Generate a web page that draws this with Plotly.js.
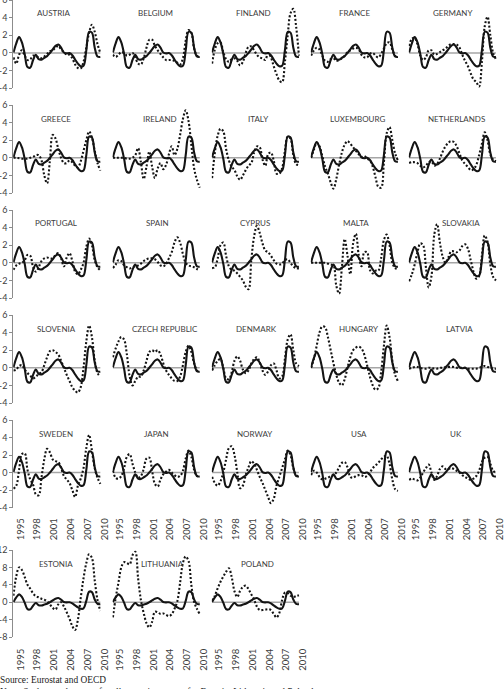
<!DOCTYPE html>
<html>
<head>
<meta charset="utf-8">
<script src="https://cdn.plot.ly/plotly-3.0.1.min.js"></script>
<style>
  html, body { margin: 0; padding: 0; background: #ffffff; }
  #chart { width: 504px; height: 689px; }
</style>
</head>
<body>
<div id="chart"></div>
<script>
// Half-yearly observation dates
const years = [1993.75, 1994.25, 1994.75, 1995.25, 1995.75, 1996.25, 1996.75, 1997.25,
               1997.75, 1998.25, 1998.75, 1999.25, 1999.75, 2000.25, 2000.75, 2001.25,
               2001.75, 2002.25, 2002.75, 2003.25, 2003.75, 2004.25, 2004.75, 2005.25,
               2005.75, 2006.25, 2006.75, 2007.25, 2007.75, 2008.25, 2008.75, 2009.25];
const tickYears = [1995, 1998, 2001, 2004, 2007, 2010];

// Reference cycle (solid line, same in every panel)
const euroArea = [0.05, 1.1, 1.8, 1.2, -0.1, -1.6, -1.65, -0.8, -0.2, -0.7, -0.75, -0.55, -0.35, 0.0, 0.4, 0.8,
                  0.95, 0.6, 0.05, -0.05, 0.0, -0.25, -0.75, -1.2, -1.5, -1.45, 0.3, 2.4, 2.3, 0.6, -0.4, -0.45];

// Country cycles (dotted lines)
const austria = [-0.5, -1.2, -0.2, 0.3, -0.3, -0.8, -0.7, -0.3, -0.4, -0.5, -0.6, -0.4, -0.1, 0.2, 0.3, 0.6,
                 0.8, 0.4, 0.1, -0.2, -0.2, -0.6, -1.3, -1.7, -1.75, -1.0, 0.6, 2.3, 3.2, 2.4, 1.0, 0.0];
const belgium = [-0.2, -0.45, -0.2, 0.1, 0.0, -0.3, -0.2, 0.0, -0.5, -1.2, -1.3, -0.6, 0.6, 1.5, 1.5, 0.8,
                 0.3, -0.1, -0.5, -0.8, -0.8, -0.8, -0.9, -1.1, -1.3, -0.6, 1.4, 2.6, 2.3, 0.5, -0.3, -0.4];
const finland = [-1.2, 0.4, 1.1, 1.2, 0.1, -0.7, -1.0, -0.7, -0.6, -0.9, -1.4, -1.0, 0.0, 0.7, 0.75, 0.3,
                 -0.2, -0.5, -0.6, -0.8, 0.0, -0.5, -1.5, -2.4, -3.1, -3.3, -1.0, 2.0, 4.5, 5.0, 3.0, -0.3];
const france = [-0.3, 0.3, 0.6, 0.4, -0.3, -0.9, -1.0, -0.7, -0.6, -0.9, -0.8, -0.6, -0.3, 0.1, 0.3, 0.5,
                0.6, 0.4, -0.2, -0.5, -0.5, -0.1, 0.0, -0.3, -0.5, -0.1, 0.5, 1.1, 1.2, 0.4, -0.3, -0.5];
const germany = [0.8, 1.6, 1.7, 1.0, -0.3, -0.8, -0.5, 0.3, 0.3, -0.2, -0.1, 0.1, 0.3, 0.5, 0.8, 1.0,
                 1.0, 0.95, 0.6, -0.2, -0.9, -1.5, -2.3, -3.0, -3.3, -3.8, -1.0, 3.0, 4.1, 2.0, 0.0, -0.7];
const greece = [0.0, 0.0, -0.05, -0.1, -0.1, -0.1, 0.0, 0.1, 0.3, 0.3, -0.3, -2.0, -2.9, -0.3, 2.6, 2.2,
                1.0, 0.0, -0.6, -0.6, -0.3, -0.5, -0.9, -1.1, -0.4, 0.8, 2.0, 3.0, 2.3, 0.8, -0.6, -1.45];
const ireland = [0.0, 0.0, 0.0, 0.0, 0.0, -0.1, -0.1, 0.0, 0.3, 1.1, -0.5, -2.4, -1.0, 0.7, -1.0, -2.3,
                 -1.2, -0.6, -1.3, -0.8, 0.4, 1.3, 0.3, 1.0, 2.6, 4.4, 5.4, 4.2, 1.5, -1.2, -2.5, -3.4];
const italy = [-2.3, 0.6, 2.5, 3.3, 3.0, 1.0, -0.3, -1.0, -1.4, -2.1, -2.5, -2.0, -1.4, -0.9, -0.6, 0.6,
               1.3, 1.2, -0.2, -0.9, 0.4, 0.6, -0.3, -1.8, -1.8, -1.2, 0.8, 2.4, 2.2, 0.3, -0.7, -0.85];
const luxembourg = [0.0, 0.9, 1.7, 1.3, 0.2, -1.0, -1.8, -2.8, -3.5, -2.4, -0.8, 0.6, 1.5, 1.9, 1.6, 1.2,
                    0.8, 0.4, 0.1, 0.2, -0.1, -0.3, -1.0, -2.2, -3.3, -3.4, -0.5, 2.8, 3.5, 2.0, 0.5, -0.3];
const netherlands = [-0.6, -0.5, -0.5, -0.6, -0.9, -1.1, -0.9, -0.5, -0.4, -0.9, -0.7, -0.1, 0.7, 1.3, 1.7, 1.9,
                     1.8, 1.3, 0.5, -0.3, -0.7, -1.05, -1.4, -1.3, -0.8, 0.3, 1.6, 2.9, 2.0, 0.4, -0.2, -0.4];
const portugal = [-0.8, -0.3, -0.1, 0.0, 0.3, 0.9, 0.8, -0.5, -1.0, -0.5, 0.2, 0.5, 0.6, 0.5, 0.5, 0.9,
                  1.1, 0.5, -0.4, 0.6, 1.1, 0.2, -1.0, -1.3, -0.8, 0.0, 1.8, 2.75, 2.0, 0.3, -0.5, -0.85];
const spain = [-0.6, -0.2, 0.3, 0.2, -0.3, -0.5, -0.65, -0.5, -0.4, -0.3, -0.1, 0.2, 0.4, 0.5, 0.5, 0.4,
               0.1, -0.3, -0.4, -0.1, 0.5, 1.2, 2.3, 2.9, 2.3, 1.0, 0.0, -0.3, -0.4, -0.5, -0.7, -0.85];
const cyprus = [-0.6, -0.5, 0.5, 2.0, 2.3, 0.8, -0.4, -0.8, -0.9, -1.2, -1.6, -2.0, -2.7, -3.0, 0.3, 3.0,
                4.2, 3.4, 2.2, 1.4, 1.2, 0.8, 0.3, -0.1, -0.2, -0.1, 0.3, 0.4, 0.0, -0.4, -0.6, -0.65];
const malta = [0.0, 0.0, 0.0, 0.0, 0.0, 0.0, -0.1, -0.2, -0.3, -2.6, -3.5, -0.5, 2.7, 0.8, -1.3, 2.2,
               3.3, 0.9, -0.4, 1.2, 1.2, -0.8, -1.2, -0.9, -0.9, 0.5, 2.6, 3.2, 2.0, 0.0, -0.6, -0.7];
const slovakia = [-2.1, -1.3, -0.2, 1.2, 2.2, 2.0, -0.5, -2.8, -1.5, 3.2, 4.4, 2.3, 0.7, 0.0, 0.6, 1.3,
                  1.3, 1.2, 1.4, 1.9, 2.1, 1.6, 0.3, -1.0, -1.8, -1.5, 0.8, 3.1, 2.4, -0.2, -1.6, -2.0];
const slovenia = [-0.3, -0.2, 0.2, 0.3, -0.2, -0.6, -0.9, -1.2, -1.0, -0.7, -0.5, 0.3, 1.2, 1.9, 2.0, 1.8,
                  1.5, 0.8, 0.0, -0.8, -1.5, -2.2, -2.6, -2.8, -2.2, 0.0, 3.0, 4.8, 3.5, 0.8, -0.6, -1.0];
const czechRepublic = [1.2, 2.2, 3.0, 3.5, 3.2, 1.5, -1.0, -2.0, -1.5, -1.0, -1.0, -0.3, 0.8, 1.8, 2.0, 1.8,
                       2.0, 1.5, 0.5, -0.3, -0.8, -1.2, -1.5, -1.5, -1.0, 0.3, 1.8, 2.5, 1.8, 0.5, -0.3, -0.5];
const denmark = [-0.3, 0.3, 0.8, 1.0, 0.0, -1.2, -1.3, -0.5, 0.8, 1.3, 0.8, -0.2, -0.6, -0.3, 0.5, 1.0,
                 1.2, 0.6, -0.3, -0.8, -0.4, 0.3, 0.5, -0.3, -1.2, -1.0, 1.0, 3.2, 3.8, 2.0, 0.5, 0.2];
const hungary = [0.0, 1.0, 2.5, 4.0, 4.7, 4.6, 3.5, 2.0, 0.5, -0.8, -1.7, -2.0, -1.3, 0.0, 1.2, 2.0,
                 2.3, 2.4, 2.2, 1.5, 0.3, -1.0, -2.0, -2.5, -2.3, -0.5, 2.5, 4.8, 3.5, 0.8, -0.8, -1.5];
const latvia = [-0.1, 0.0, 0.1, 0.1, 0.0, -0.1, -0.1, 0.0, 0.0, -0.1, -0.1, 0.0, 0.0, 0.1, 0.1, 0.1,
                0.1, 0.0, 0.0, 0.0, 0.0, -0.1, -0.1, -0.1, -0.1, 0.0, 0.1, 0.2, 0.1, 0.0, -0.1, -0.1];
const sweden = [-1.85, -1.5, 0.3, 2.1, 2.2, 0.3, -0.8, -1.4, -2.5, -2.6, -0.6, 1.5, 2.7, 2.3, 1.5, 1.3,
                1.2, 0.5, -0.4, -0.8, -1.2, -2.0, -2.8, -1.5, -0.7, 0.5, 2.8, 4.3, 2.5, 0.5, -0.6, -1.3];
const japan = [0.2, -0.6, -0.7, -0.4, 0.5, 1.8, 2.1, 1.0, 0.0, -0.6, -0.4, 0.4, 1.6, 1.7, 0.2, -1.3,
               -1.6, -0.8, -0.2, 0.1, 0.3, 0.0, -0.3, -0.5, -0.4, 0.2, 1.6, 2.5, 1.8, 0.3, -0.4, -0.3];
const norway = [-0.5, -1.2, -1.5, -1.0, 0.0, 1.5, 2.8, 3.0, 2.0, 0.0, -1.8, -1.5, -0.3, 0.6, 1.3, 1.0,
                0.3, -0.5, -1.2, -2.0, -2.8, -3.5, -3.0, -1.5, -0.5, 0.5, 1.5, 2.5, 2.0, 0.5, -0.3, -0.5];
const usa = [-0.3, 0.2, 0.0, -0.5, -0.8, -0.7, -0.6, -0.4, -0.3, 0.0, 0.6, 1.1, 1.2, 0.6, -0.5, -0.6,
             -0.4, -0.3, -0.3, -0.5, -0.4, 0.0, 0.5, 0.8, 1.1, 1.5, 1.8, 1.9, 1.0, -0.8, -1.9, -2.1];
const uk = [-0.85, -0.7, -0.8, -0.9, -0.6, 0.0, 0.5, 0.9, 0.0, -0.85, -0.4, 0.4, 0.7, 0.4, 0.4, 0.5,
            0.4, 0.2, 0.0, -0.3, -0.5, -0.7, -0.85, -0.7, -0.4, 0.2, 1.2, 1.7, 1.8, 1.0, 0.2, 0.0];
const estonia = [1.5, 6.0, 8.0, 7.4, 5.8, 4.0, 3.1, 2.0, 1.4, 1.1, 0.8, 0.6, 0.2, -0.5, -1.3, -1.7,
                 -0.5, 0.0, -1.0, -2.3, -3.8, -5.5, -6.4, -4.0, 1.0, 5.5, 9.0, 11.0, 10.2, 5.0, 0.5, -2.0];
const lithuania = [-3.5, 1.0, 4.5, 8.0, 9.2, 9.0, 8.7, 10.8, 11.6, 5.5, 0.5, -2.5, -4.8, -5.8, -4.5, -2.2,
                   -2.3, -2.7, -2.6, -2.9, -3.2, -2.8, -1.5, 0.2, 4.5, 9.0, 10.5, 9.5, 4.0, 0.0, -1.5, -2.7];
const poland = [0.3, 1.5, 3.2, 4.7, 5.9, 7.0, 7.8, 5.8, 2.5, 1.2, 2.6, 3.5, 3.8, 3.0, 1.8, 0.6,
                -1.0, -1.8, -1.8, -1.7, -1.6, -1.8, -2.7, -3.5, -2.5, 0.5, 2.2, 2.1, 1.5, 1.2, 1.4, 1.6];

const countryNames = ['AUSTRIA', 'BELGIUM', 'FINLAND', 'FRANCE', 'GERMANY',
                      'GREECE', 'IRELAND', 'ITALY', 'LUXEMBOURG', 'NETHERLANDS',
                      'PORTUGAL', 'SPAIN', 'CYPRUS', 'MALTA', 'SLOVAKIA',
                      'SLOVENIA', 'CZECH REPUBLIC', 'DENMARK', 'HUNGARY', 'LATVIA',
                      'SWEDEN', 'JAPAN', 'NORWAY', 'USA', 'UK',
                      'ESTONIA', 'LITHUANIA', 'POLAND'];
const countrySeries = [austria, belgium, finland, france, germany,
                       greece, ireland, italy, luxembourg, netherlands,
                       portugal, spain, cyprus, malta, slovakia,
                       slovenia, czechRepublic, denmark, hungary, latvia,
                       sweden, japan, norway, usa, uk,
                       estonia, lithuania, poland];

// Panel grid geometry (pixels)
const W = 504, H = 689;
const colLeft = [13.2, 112.6, 211.8, 310.8, 408.8];
const plotW = 91.6;
const rowTop = [0, 105, 210, 315, 420, 550];
const rowH = [88.3, 88, 88, 88, 87.5, 87];
const xRange = [1993.7, 2010.05];
const smallRange = [-4, 6], smallTicks = [-4, -2, 0, 2, 4, 6];
const wideRange = [-8, 12], wideTicks = [-8, -4, 0, 4, 8, 12];
// horizontal nudge of each panel title (pixels, panel order)
const titleShift = [-4, -1.5, -2, 0, -0.5,
                    -1, 3.5, 2, 3, 3.5,
                    -1, 0.5, -1, 1, 8,
                    -1, 8, 1, 4, 7,
                    -1, -0.5, -1, 4, 3.5,
                    -1, 5.5, 1.5];
const titleDrop = [13.5, 13.5, 13.5, 13.5, 13.5, 14];

const axisGray = '#8c8c8c';
const textGray = '#404040';
const yTickFont = { family: 'Lato, "Open Sans", sans-serif', size: 9, color: textGray };
const xTickFont = { family: 'Lato, "Open Sans", sans-serif', size: 9.5, color: textGray };

const traces = [];
const layout = {
  width: W, height: H,
  margin: { l: 0, r: 0, t: 0, b: 0 },
  paper_bgcolor: '#ffffff', plot_bgcolor: 'rgba(0,0,0,0)',
  showlegend: false,
  shapes: [], annotations: []
};

countryNames.forEach((name, k) => {
  const r = Math.floor(k / 5), c = k % 5;
  const n = k + 1;
  const xa = 'xaxis' + (n > 1 ? n : ''), ya = 'yaxis' + (n > 1 ? n : '');
  const xr = 'x' + (n > 1 ? n : ''), yr = 'y' + (n > 1 ? n : '');
  const wide = r === 5;
  const bottomRow = r >= 4;
  const firstCol = c === 0;

  layout[xa] = {
    domain: [colLeft[c] / W, Math.min(1, (colLeft[c] + plotW) / W)],
    range: xRange, anchor: yr,
    showgrid: false, zeroline: false, showline: false,
    tickmode: 'array', tickvals: tickYears, ticktext: tickYears.map(String),
    showticklabels: bottomRow, tickangle: -90, ticklabeloverflow: 'allow',
    ticks: bottomRow ? 'outside' : '', ticklen: wide ? 7 : 6, tickcolor: 'rgba(0,0,0,0)',
    tickfont: xTickFont, fixedrange: true
  };
  layout[ya] = {
    domain: [1 - (rowTop[r] + rowH[r]) / H, 1 - rowTop[r] / H],
    range: wide ? wideRange : smallRange, anchor: xr,
    showgrid: false, zeroline: false,
    showline: firstCol, linecolor: axisGray, linewidth: 1,
    tickmode: 'array', tickvals: wide ? wideTicks : smallTicks,
    ticktext: (wide ? wideTicks : smallTicks).map(v => v < 0 ? '-' + Math.abs(v) : String(v)),
    showticklabels: firstCol, ticks: firstCol ? 'outside' : '', ticklen: 3,
    tickcolor: axisGray, tickwidth: 1, tickfont: yTickFont, ticklabeloverflow: 'allow',
    fixedrange: true
  };

  // horizontal axis at zero
  layout.shapes.push({
    type: 'line', xref: xr, yref: yr, layer: 'below',
    x0: years[0], x1: years[years.length - 1], y0: 0, y1: 0,
    line: { color: '#a6a6a6', width: 1.6 }
  });

  traces.push({
    x: years, y: countrySeries[k], xaxis: xr, yaxis: yr,
    type: 'scatter', mode: 'lines', hoverinfo: 'skip',
    line: { color: '#141414', width: 2.1, dash: '2px,2px', shape: 'spline', smoothing: 1 }
  });
  traces.push({
    x: years, y: euroArea, xaxis: xr, yaxis: yr,
    type: 'scatter', mode: 'lines', hoverinfo: 'skip',
    line: { color: '#141414', width: 2.1, shape: 'spline', smoothing: 1 }
  });

  layout.annotations.push({
    text: name, showarrow: false, xref: 'paper', yref: 'paper',
    x: (colLeft[c] + 44 + titleShift[k]) / W, y: 1 - (rowTop[r] + titleDrop[r]) / H,
    xanchor: 'center', yanchor: 'middle',
    font: { family: 'Lato, "Open Sans", sans-serif', size: 8, color: textGray }
  });
});

// Source and note lines under the panels
const serifFont = { family: '"Liberation Serif", "Times New Roman", serif', size: 9.4, color: '#1a1a1a' };
layout.annotations.push({
  text: 'Source: Eurostat and OECD', showarrow: false, xref: 'paper', yref: 'paper',
  x: -2.5 / W, y: 1 - 680 / H, xanchor: 'left', yanchor: 'middle', font: serifFont
});
layout.annotations.push({
  text: 'Note: Scales are the same for all countries except for Estonia, Lithuania and Poland',
  showarrow: false, xref: 'paper', yref: 'paper',
  x: -2.5 / W, y: 1 - 692 / H, xanchor: 'left', yanchor: 'middle', font: serifFont
});

Plotly.newPlot('chart', traces, layout, { staticPlot: true, displayModeBar: false });
</script>
</body>
</html>
